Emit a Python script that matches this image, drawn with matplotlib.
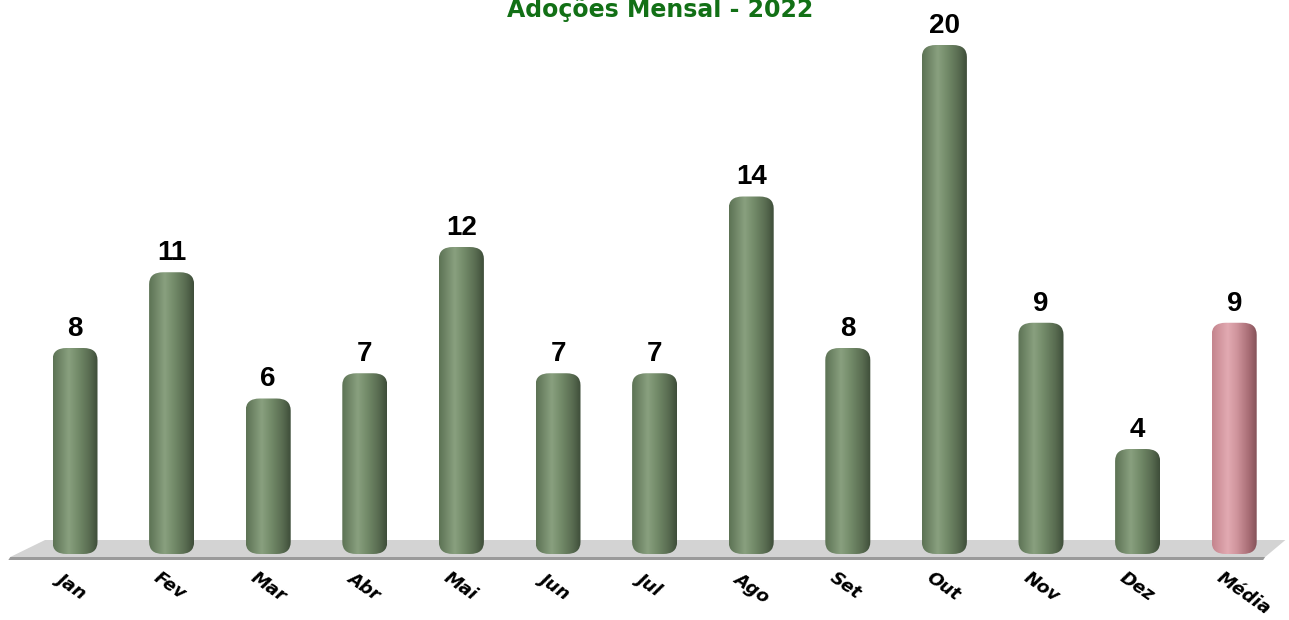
import numpy as np
import matplotlib.pyplot as plt
from matplotlib.colors import LinearSegmentedColormap
from matplotlib.patches import FancyBboxPatch, Polygon

months = ["Jan", "Fev", "Mar", "Abr", "Mai", "Jun", "Jul", "Ago", "Set", "Out", "Nov", "Dez", "Média"]
adocoes = [8, 11, 6, 7, 12, 7, 7, 14, 8, 20, 9, 4, 9]
title = "Adoções Mensal - 2022"

green_cmap = LinearSegmentedColormap.from_list(
    "green_cyl", [(0.0, "#5c7254"), (0.35, "#89a07f"), (0.55, "#748c6a"),
                  (0.82, "#586b50"), (1.0, "#3e4d39")])
pink_cmap = LinearSegmentedColormap.from_list(
    "pink_cyl", [(0.0, "#c4848d"), (0.35, "#e2aab2"), (0.55, "#d0959d"),
                 (0.82, "#a86d75"), (1.0, "#845259")])

W, H = 1289, 620
px_x = 96.6     # pixels per category
px_y = 25.25    # pixels per unit
x0_px = 75      # centre of first bar
base_px = 550   # baseline, from top

fig = plt.figure(figsize=(W / 100, H / 100), dpi=100)
ax = fig.add_axes([0, 0, 1, 1])
ax.set_xlim(-x0_px / px_x, (W - x0_px) / px_x)
ax.set_ylim(-(H - base_px) / px_y, base_px / px_y)
ax.axis("off")

# floor slab
fy_top = 10 / px_y
fy_bot = -7 / px_y
floor = Polygon([(-0.31, fy_top), (12.53, fy_top), (12.32, fy_bot), (-0.67, fy_bot)],
                closed=True, facecolor="#d3d3d3", edgecolor="none", zorder=1)
ax.add_patch(floor)
ax.add_patch(Polygon([(-0.67, fy_bot), (12.32, fy_bot), (12.30, fy_bot - 3 / px_y),
                      (-0.69, fy_bot - 3 / px_y)], closed=True,
                     facecolor="#9a9a9a", edgecolor="none", zorder=1))

bar_w = 45 / px_x
r_x = 14 / px_x
aspect = (12 / px_y) / r_x
grad = np.linspace(0, 1, 256).reshape(1, -1)

for i, (m, v) in enumerate(zip(months, adocoes)):
    cmap = pink_cmap if m == "Média" else green_cmap
    left = i - bar_w / 2
    bottom = -4 / px_y
    height = v - bottom
    patch = FancyBboxPatch((left, bottom), bar_w, height,
                           boxstyle=f"round,pad=0,rounding_size={r_x}",
                           mutation_aspect=aspect, facecolor="none",
                           edgecolor="none", zorder=3)
    ax.add_patch(patch)
    im = ax.imshow(grad, cmap=cmap, aspect="auto", zorder=2,
                   extent=[left, left + bar_w, bottom, v], interpolation="bicubic")
    im.set_clip_path(patch)
    ax.text(i, v + 12 / px_y, str(v), ha="center", va="baseline", fontsize=20,
            fontweight="bold", family="Liberation Sans", color="black")
    ax.text(i - 21 / px_x, -(569 - base_px) / px_y, m, ha="left", va="top",
            rotation=-35, fontsize=13, fontweight="bold", fontstyle="italic",
            family="DejaVu Sans", color="black")

fig.text(660 / W, 1 - 17 / H, title, ha="center", va="baseline", fontsize=17,
         fontweight="bold", color="#127016", family="DejaVu Sans")

fig.savefig("out.png", dpi=100)
